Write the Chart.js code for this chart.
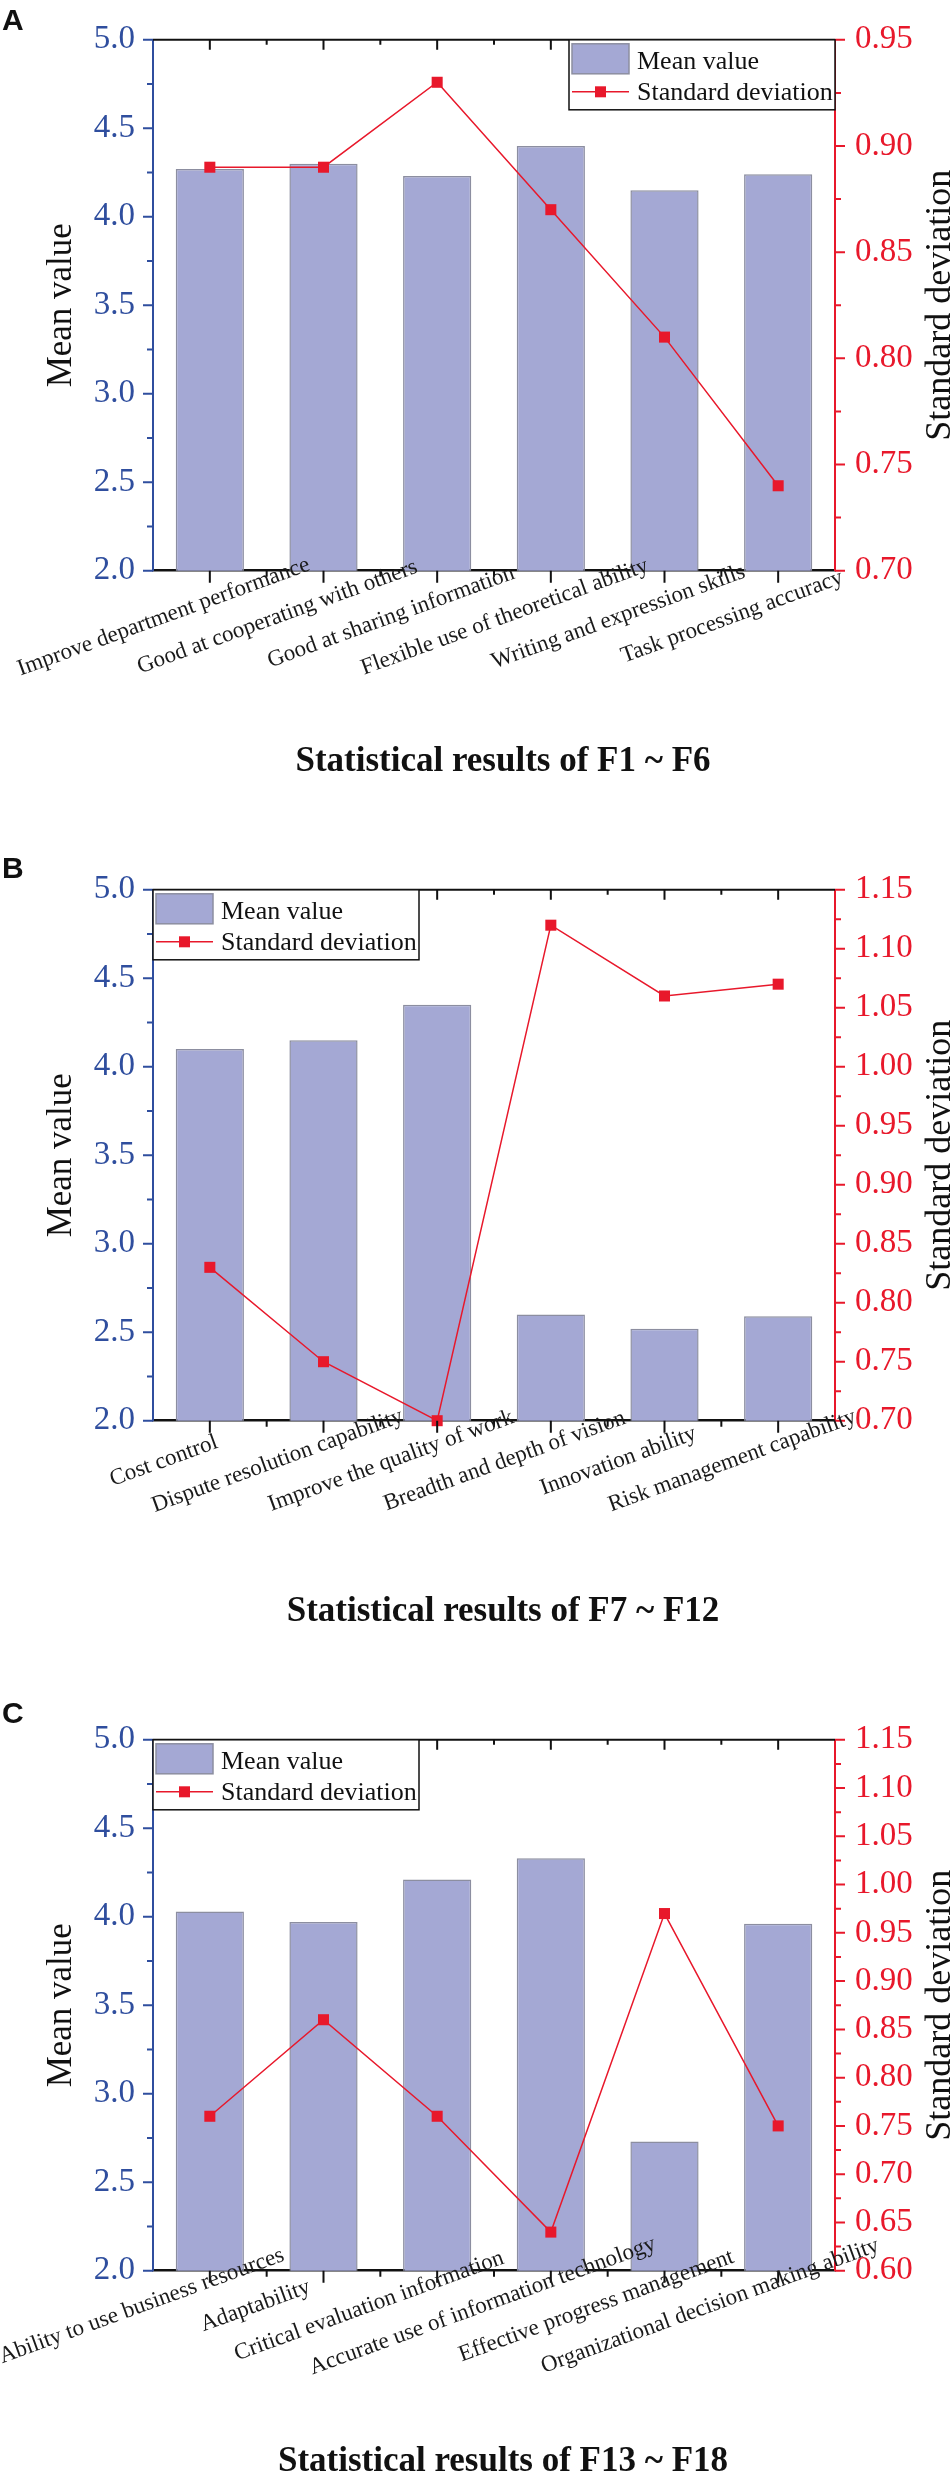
<!DOCTYPE html>
<html>
<head>
<meta charset="utf-8">
<title>Statistical results of F1 ~ F18</title>
<script src="https://cdn.jsdelivr.net/npm/chart.js@4.4.1/dist/chart.umd.min.js"></script>
<style>
  body { margin: 0; background: #fff; }
  canvas { display: block; }
</style>
</head>
<body>
<canvas id="chartA" width="951" height="850"></canvas>
<canvas id="chartB" width="951" height="850"></canvas>
<canvas id="chartC" width="951" height="773"></canvas>
<script>
document.addEventListener('DOMContentLoaded', () => {
  // ---- data ----
  const categoriesA = ['Improve department performance', 'Good at cooperating with others', 'Good at sharing information',
    'Flexible use of theoretical ability', 'Writing and expression skills', 'Task processing accuracy'];
  const meanA = [4.27, 4.30, 4.23, 4.40, 4.15, 4.24];
  const sdA = [0.89, 0.89, 0.93, 0.87, 0.81, 0.74];

  const categoriesB = ['Cost control', 'Dispute resolution capability', 'Improve the quality of work',
    'Breadth and depth of vision', 'Innovation ability', 'Risk management capability'];
  const meanB = [4.10, 4.15, 4.35, 2.60, 2.52, 2.59];
  const sdB = [0.83, 0.75, 0.70, 1.12, 1.06, 1.07];

  const categoriesC = ['Ability to use business resources', 'Adaptability', 'Critical evaluation information',
    'Accurate use of information technology', 'Effective progress management', 'Organizational decision making ability'];
  const meanC = [4.03, 3.97, 4.21, 4.33, 2.73, 3.96];
  const sdC = [0.76, 0.86, 0.76, 0.64, 0.97, 0.75];

  // axis ranges
  const meanRange = [2.0, 5.0];
  const sdRangeA = [0.70, 0.95];
  const sdRangeB = [0.70, 1.15];
  const sdRangeC = [0.60, 1.15];

  const titles = ['Statistical results of F1 ~ F6', 'Statistical results of F7 ~ F12', 'Statistical results of F13 ~ F18'];

  const BLUE = '#2f4e9e';
  const RED = '#e8182b';
  const BAR = '#a4a8d4';
  const BAR_EDGE = '#8c8ea0';
  const SERIF = '"Liberation Serif", "Times New Roman", serif';

  Chart.defaults.font.family = SERIF;
  Chart.defaults.color = '#111';

  const isMultiple = (v, step) => Math.abs(v / step - Math.round(v / step)) < 1e-6;

  // axis frame, tick marks, rotated labels, titles and legend box
  const decor = {
    id: 'decor',
    afterDraw(chart) {
      const o = chart.options.plugins.decor;
      const { ctx, chartArea: area, scales } = chart;
      const x = scales.x, yl = scales.y, yr = scales.y1;
      ctx.save();

      // top frame line
      ctx.strokeStyle = '#111';
      ctx.lineWidth = 2;
      ctx.beginPath();
      ctx.moveTo(area.left, area.top);
      ctx.lineTo(area.right, area.top);
      ctx.stroke();

      // category ticks (centres long, boundaries short), bottom outward and top inward
      const n = chart.data.labels.length;
      ctx.lineWidth = 2;
      ctx.beginPath();
      for (let i = 0; i < n; i++) {
        const px = x.getPixelForValue(i);
        ctx.moveTo(px, area.bottom); ctx.lineTo(px, area.bottom + 12);
        ctx.moveTo(px, area.top); ctx.lineTo(px, area.top + 10);
        if (i < n - 1) {
          const bx = (px + x.getPixelForValue(i + 1)) / 2;
          ctx.moveTo(bx, area.bottom); ctx.lineTo(bx, area.bottom + 6);
          ctx.moveTo(bx, area.top); ctx.lineTo(bx, area.top + 5);
        }
      }
      ctx.stroke();

      // value axis ticks
      const drawTicks = (scale, color, dir, edge) => {
        ctx.strokeStyle = color;
        ctx.lineWidth = 2;
        ctx.beginPath();
        scale.ticks.forEach((t) => {
          const py = scale.getPixelForValue(t.value);
          const len = t.label !== '' ? 10 : 6;
          ctx.moveTo(edge, py);
          ctx.lineTo(edge + dir * len, py);
        });
        ctx.stroke();
      };
      drawTicks(yl, BLUE, -1, area.left);
      drawTicks(yr, RED, 1, area.right);

      // rotated category labels
      ctx.fillStyle = '#1a1a1a';
      ctx.font = '23px ' + SERIF;
      ctx.textAlign = 'center';
      ctx.textBaseline = 'alphabetic';
      chart.data.labels.forEach((lab, i) => {
        ctx.save();
        ctx.translate(x.getPixelForValue(i) + o.labelDx, area.bottom + o.labelDy);
        ctx.rotate(-20 * Math.PI / 180);
        ctx.fillText(lab, 0, 0);
        ctx.restore();
      });

      // axis titles
      const midY = (area.top + area.bottom) / 2;
      ctx.fillStyle = '#111';
      ctx.font = '35px ' + SERIF;
      ctx.save();
      ctx.translate(71, midY);
      ctx.rotate(-Math.PI / 2);
      ctx.fillText('Mean value', 0, 0);
      ctx.restore();
      ctx.font = '36px ' + SERIF;
      ctx.save();
      ctx.translate(950, midY);
      ctx.rotate(-Math.PI / 2);
      ctx.fillText('Standard deviation', 0, 0);
      ctx.restore();

      // panel title and letter
      ctx.font = 'bold 35px ' + SERIF;
      ctx.fillText(o.title, 503, 771);
      ctx.textAlign = 'left';
      ctx.font = 'bold 30px "Liberation Sans", Arial, sans-serif';
      ctx.fillText(o.letter, 2, o.letterY);

      // legend box
      const bw = 266, bh = 70;
      const bx = o.legendRight ? area.right - bw : area.left;
      const by = area.top;
      ctx.fillStyle = '#fff';
      ctx.fillRect(bx, by, bw, bh);
      ctx.strokeStyle = '#111';
      ctx.lineWidth = 1.5;
      ctx.strokeRect(bx, by, bw, bh);
      const bar = chart.data.datasets[0], line = chart.data.datasets[1];
      ctx.fillStyle = bar.backgroundColor;
      ctx.fillRect(bx + 3, by + 4, 57, 30);
      ctx.strokeStyle = bar.borderColor;
      ctx.strokeRect(bx + 3, by + 4, 57, 30);
      ctx.strokeStyle = line.borderColor;
      ctx.lineWidth = 1.5;
      ctx.beginPath();
      ctx.moveTo(bx + 3, by + 52);
      ctx.lineTo(bx + 60, by + 52);
      ctx.stroke();
      ctx.fillStyle = line.pointBackgroundColor;
      ctx.fillRect(bx + 26, by + 46.5, 11, 11);
      ctx.fillStyle = '#111';
      ctx.font = '26px ' + SERIF;
      ctx.fillText(bar.label, bx + 68, by + 29);
      ctx.fillText(line.label, bx + 68, by + 60);

      ctx.restore();
    },
  };

  function makePanel(canvasId, categories, means, sds, sdRange, panel) {
    const canvas = document.getElementById(canvasId);
    const H = canvas.height;
    return new Chart(canvas, {
      type: 'bar',
      data: {
        labels: categories,
        datasets: [
          {
            label: 'Mean value',
            data: means,
            yAxisID: 'y',
            backgroundColor: BAR,
            borderColor: BAR_EDGE,
            borderWidth: 1.5,
            barPercentage: 0.6,
            categoryPercentage: 1.0,
            order: 2,
          },
          {
            type: 'line',
            label: 'Standard deviation',
            data: sds,
            yAxisID: 'y1',
            borderColor: RED,
            borderWidth: 1.5,
            pointStyle: 'rect',
            pointRadius: 7.8,
            pointBackgroundColor: RED,
            pointBorderColor: RED,
            pointBorderWidth: 0,
            tension: 0,
            clip: false,
            order: 1,
          },
        ],
      },
      options: {
        responsive: false,
        animation: false,
        layout: { padding: { top: 16.7, left: 0, right: 0, bottom: 0 } },
        plugins: {
          legend: { display: false },
          tooltip: { enabled: false },
          decor: panel,
        },
        scales: {
          x: {
            type: 'category',
            offset: true,
            grid: { display: false, drawTicks: false },
            ticks: { display: false },
            border: { color: '#111', width: 2.5 },
            afterFit: (s) => { s.height = H - 570.7; },
          },
          y: {
            position: 'left',
            min: meanRange[0],
            max: meanRange[1],
            grid: { display: false, drawTicks: false },
            border: { color: BLUE, width: 2 },
            ticks: {
              stepSize: 0.25,
              autoSkip: false,
              padding: 18,
              color: BLUE,
              font: { size: 33 },
              callback: (v) => (isMultiple(v, 0.5) ? v.toFixed(1) : ''),
            },
            afterFit: (s) => { s.width = 153; },
          },
          y1: {
            position: 'right',
            min: sdRange[0],
            max: sdRange[1],
            grid: { display: false, drawTicks: false },
            border: { color: RED, width: 2 },
            ticks: {
              stepSize: 0.025,
              autoSkip: false,
              padding: 20,
              color: RED,
              font: { size: 33 },
              callback: (v) => (isMultiple(v, 0.05) ? v.toFixed(2) : ''),
            },
            afterFit: (s) => { s.width = 116; },
          },
        },
      },
      plugins: [decor],
    });
  }

  makePanel('chartA', categoriesA, meanA, sdA, sdRangeA,
    { title: titles[0], letter: 'A', letterY: 30, labelDx: -44, labelDy: 52, legendRight: true });
  makePanel('chartB', categoriesB, meanB, sdB, sdRangeB,
    { title: titles[1], letter: 'B', letterY: 28, labelDx: -44, labelDy: 46, legendRight: false });
  makePanel('chartC', categoriesC, meanC, sdC, sdRangeC,
    { title: titles[2], letter: 'C', letterY: 23, labelDx: -66, labelDy: 41, legendRight: false });
});
</script>
</body>
</html>
